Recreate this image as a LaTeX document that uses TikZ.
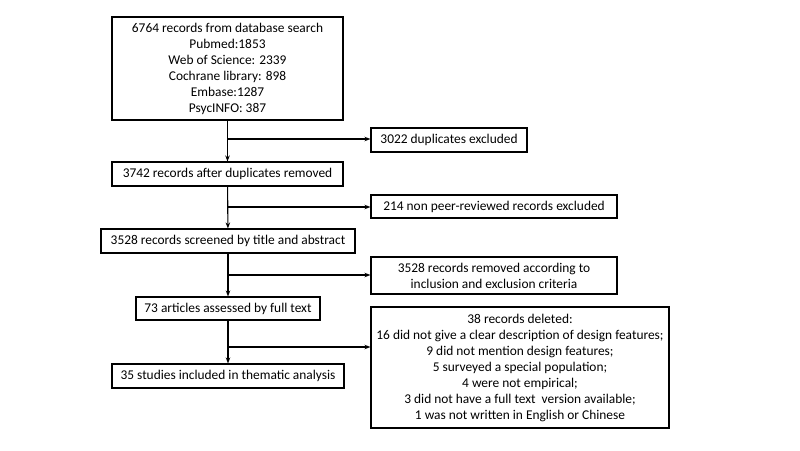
\documentclass[tikz,border=0pt]{standalone}
\usepackage{fontspec}
\setmainfont{Carlito}
\usetikzlibrary{arrows.meta}

\tikzset{
  box/.style={draw, line width=1.1pt, inner sep=0pt, align=center,
    font=\fontsize{13.4}{16}\selectfont},
  arr/.style={line width=1.1pt, -{Stealth[length=6pt,width=4.5pt]}}
}

\def\side#1#2{%
  \coordinate (b#1) at (228,#2);
  \draw[arr] (b#1) -- (b#1 -| e#1.west);
}

\begin{document}
\begin{tikzpicture}[x=1pt,y=-1pt]
\useasboundingbox (0,0) rectangle (800,450);
\draw (227.5,68.5) node[box,minimum width=231pt,minimum height=103pt] (s1)
  {6764 records from database search\\Pubmed:1853\\Web of Science: 2339\\
   Cochrane library: 898\\Embase:1287\\PsycINFO: 387};
\draw (227.5,174) node[box,minimum width=231pt,minimum height=24pt] (s2)
  {3742 records after duplicates removed};
\draw (228,241) node[box,minimum width=254pt,minimum height=24pt] (s3)
  {3528 records screened by title and abstract};
\draw (228,308.5) node[box,minimum width=184pt,minimum height=23pt] (s4)
  {73 articles assessed by full text};
\draw (228,376) node[box,minimum width=232pt,minimum height=24pt] (s5)
  {35 studies included in thematic analysis};
\draw (449,140) node[box,minimum width=156pt,minimum height=24pt] (e1)
  {3022 duplicates excluded};
\draw (494,206.5) node[box,minimum width=246pt,minimum height=23pt] (e2)
  {214 non peer-reviewed records excluded};
\draw (494,275.5) node[box,minimum width=246pt,minimum height=37pt] (e3)
  {3528 records removed according to\\inclusion and exclusion criteria};
\draw (520,367.5) node[box,minimum width=298pt,minimum height=121pt] (e4)
  {38 records deleted:\\16 did not give a clear description of design features;\\
   9 did not mention design features;\\5 surveyed a special population;\\
   4 were not empirical;\\3 did not have a full text\ \ version available;\\
   1 was not written in English or Chinese};
\draw[arr] (s1) -- (s2);
\draw[arr] (s2) -- (s3);
\draw[arr] (s3) -- (s4);
\draw[arr] (s4) -- (s5);
\side{1}{139}  \side{2}{207}
\side{3}{275}  \side{4}{347}
\end{tikzpicture}
\end{document}
